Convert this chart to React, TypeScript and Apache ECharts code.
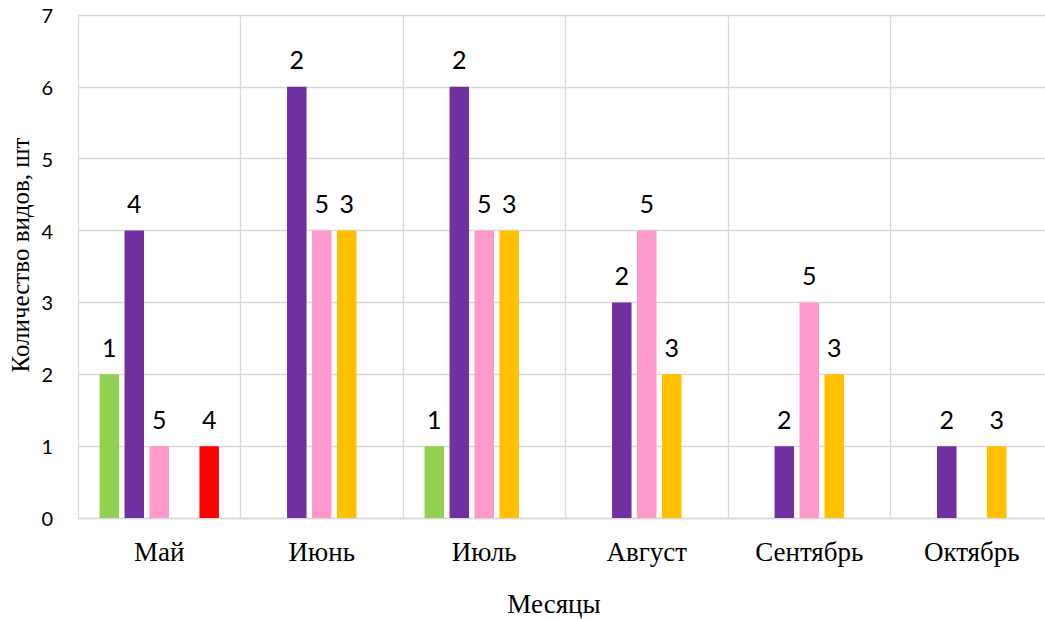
import React, { useEffect, useRef } from "react";
import * as echarts from "echarts";

// Months along the horizontal axis
const months = ["Май", "Июнь", "Июль", "Август", "Сентябрь", "Октябрь"];

// Bar heights per series (null = no bar in that month)
const greenValues = [2, null, 1, null, null, null];
const purpleValues = [4, 6, 6, 3, 1, 1];
const pinkValues = [1, 4, 4, 4, 3, null];
const yellowValues = [null, 4, 4, 2, 2, 1];
const redValues = [1, null, null, null, null, null];

// Text written above each bar
const greenLabels = ["1", "", "1", "", "", ""];
const purpleLabels = ["4", "2", "2", "2", "2", "2"];
const pinkLabels = ["5", "5", "5", "5", "5", ""];
const yellowLabels = ["", "3", "3", "3", "3", "3"];
const redLabels = ["4", "", "", "", "", ""];

const seriesColors = ["#92d050", "#7030a0", "#ff99cc", "#ffc000", "#ff0000"];
const seriesNames = ["Ряд 1", "Ряд 2", "Ряд 3", "Ряд 4", "Ряд 5"];

const yTicks = { min: 0, max: 7, interval: 1 };

const yTitle = "Количество видов, шт";
const xTitle = "Месяцы";

export default function App() {
  const ref = useRef<HTMLDivElement>(null);

  useEffect(() => {
    if (!ref.current) return;
    const chart = echarts.init(ref.current, null, { renderer: "svg" });

    const values = [greenValues, purpleValues, pinkValues, yellowValues, redValues];
    const labels = [greenLabels, purpleLabels, pinkLabels, yellowLabels, redLabels];
    const gridColor = "#d9d9d9";
    const sans = "Lato, 'Open Sans', sans-serif";
    const serif = "'Liberation Serif', 'DejaVu Serif', serif";

    chart.setOption({
      animation: false,
      backgroundColor: "#ffffff",
      grid: { left: 78, right: 0, top: 15, bottom: 101 },
      xAxis: {
        type: "category",
        data: months,
        axisLine: { show: true, lineStyle: { color: gridColor, width: 1.3 } },
        axisTick: { show: false },
        splitLine: { show: true, lineStyle: { color: gridColor, width: 1.3 } },
        axisLabel: {
          margin: 20,
          fontFamily: serif,
          fontSize: 27,
          color: "#000",
        },
      },
      yAxis: {
        type: "value",
        min: yTicks.min,
        max: yTicks.max,
        interval: yTicks.interval,
        axisLine: { show: false },
        axisTick: { show: false },
        splitLine: { show: true, lineStyle: { color: gridColor, width: 1.3 } },
        axisLabel: {
          margin: 25,
          fontFamily: sans,
          fontSize: 20,
          color: "#000",
        },
      },
      graphic: [
        {
          type: "text",
          x: 20,
          y: 255,
          rotation: Math.PI / 2,
          style: {
            text: yTitle,
            fontFamily: serif,
            fontSize: 25,
            fill: "#000",
            align: "center",
            verticalAlign: "middle",
          },
        },
        {
          type: "text",
          x: 554,
          y: 604,
          style: {
            text: xTitle,
            fontFamily: serif,
            fontSize: 27,
            fill: "#000",
            align: "center",
            verticalAlign: "middle",
          },
        },
      ],
      series: values.map((data, i) => ({
        type: "bar",
        name: seriesNames[i],
        data,
        barWidth: 19.5,
        barGap: "28%",
        itemStyle: { color: seriesColors[i] },
        label: {
          show: true,
          position: "top",
          distance: 15,
          fontFamily: sans,
          fontSize: 25,
          color: "#000",
          formatter: (p: any) => labels[i][p.dataIndex] || "",
        },
      })),
    });

    return () => chart.dispose();
  }, []);

  return (
    <div
      style={{
        position: "absolute",
        left: 0,
        top: 0,
        width: 1045,
        height: 619,
        overflow: "hidden",
        background: "#fff",
      }}
    >
      <div ref={ref} style={{ width: 1053, height: 619 }} />
    </div>
  );
}
